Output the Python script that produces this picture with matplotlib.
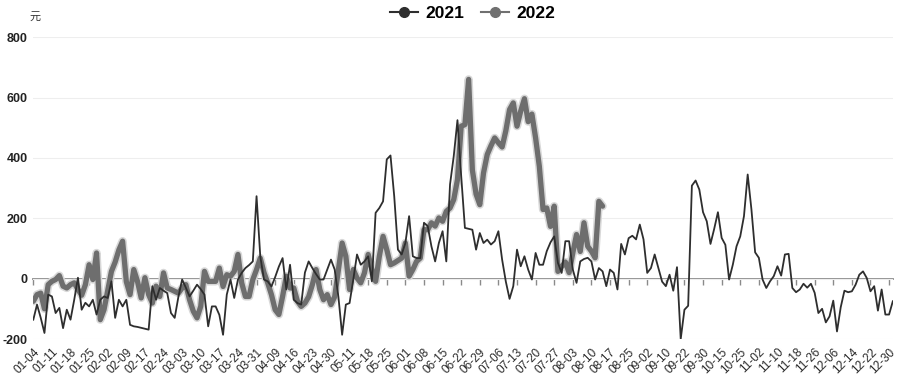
import matplotlib
matplotlib.use('Agg')
import matplotlib.pyplot as plt
import matplotlib.patheffects as pe
from matplotlib.lines import Line2D

plt.rcParams['font.family'] = ['Liberation Sans', 'Noto Sans CJK SC', 'DejaVu Sans']
plt.rcParams['axes.unicode_minus'] = False

# x 轴标签（每 5 个数据点一个）
date_labels = ['01-04', '01-11', '01-18', '01-25', '02-02', '02-09', '02-17', '02-24',
               '03-03', '03-10', '03-17', '03-24', '03-31', '04-09', '04-16', '04-23',
               '04-30', '05-11', '05-18', '05-25', '06-01', '06-08', '06-15', '06-22',
               '06-29', '07-06', '07-13', '07-20', '07-27', '08-03', '08-10', '08-17',
               '08-25', '09-02', '09-10', '09-22', '09-30', '10-15', '10-25', '11-02',
               '11-10', '11-18', '11-26', '12-06', '12-14', '12-22', '12-30']
tick_step = 5

series_names = ['2021', '2022']

y2021 = [-136, -86, -130, -180, -53, -59, -114, -97, -164, -103,
         -136, -70, 3, -103, -80, -92, -70, -119, -70, -59,
         -64, -9, -130, -70, -92, -70, -153, -158, -160, -163,
         -166, -169, -25, -70, -31, -40, -48, -114, -130, -60,
         -3, -30, -59, -40, -20, -35, -53, -158, -92, -92,
         -120, -186, -53, -3, -64, -3, 19, 35, 45, 57,
         273, 74, -3, -9, -26, 5, 40, 68, -36, 46,
         -70, -81, -86, 20, 57, 35, 15, -3, -3, 30,
         63, 30, -60, -186, -86, -81, -3, 80, 46, 57,
         74, -9, 218, 234, 256, 395, 408, 273, 96, 80,
         118, 207, 74, 68, 68, 185, 174, 107, 57, 118,
         157, 57, 312, 406, 525, 340, 168, 165, 162, 96,
         151, 118, 129, 113, 124, 157, 63, -10, -67, -25,
         96, 41, 74, 30, -3, 85, 46, 46, 91, 120,
         140, 52, 19, 124, 124, 30, -14, 57, 65, 69,
         57, -3, 35, 24, -25, 30, 19, -36, 115, 80,
         134, 142, 130, 179, 130, 19, 35, 80, 35, -10,
         -25, 13, -40, 38, -200, -103, -90, 308, 325, 295,
         220, 190, 115, 165, 220, 135, 112, -3, 46, 107,
         140, 207, 345, 230, 87, 69, -3, -31, -9, 8,
         41, 10, 80, 82, -31, -45, -36, -17, -30, -17,
         -47, -114, -100, -145, -125, -73, -175, -95, -40, -45,
         -42, -20, 13, 24, 2, -42, -25, -106, -36, -119,
         -119, -75]

y2022 = [-75, -53, -48, -100, -20, -9, -3, 10, -25, -31,
         -20, -14, -36, -55, -20, 46, -3, 85, -136, -103,
         -40, 24, 55, 95, 124, -10, -53, 30, -9, -64,
         3, -53, -81, -25, -59, 19, -31, -36, -42, -48,
         -31, -20, -70, -108, -130, -92, 24, -9, -9, -9,
         35, -26, 13, 8, 24, 80, -14, -59, -59, -3,
         30, 68, 20, -14, -53, -103, -119, -59, 8, -31,
         -31, -75, -92, -81, -60, -20, 30, -36, -70, -53,
         -86, -60, 30, 118, 74, -36, 30, 2, -14, 19,
         80, 30, -9, 74, 140, 96, 46, 52, 60, 68,
         118, 8, 30, 57, 68, 162, 162, 185, 174, 201,
         190, 223, 234, 262, 328, 505, 510, 660, 360, 280,
         245, 350, 411, 440, 466, 450, 436, 490, 560, 582,
         505, 555, 596, 520, 545, 466, 372, 229, 234, 173,
         240, 24, 40, 55, 20, 85, 146, 90, 185, 107,
         91, 69, 256, 240]

y_ticks = [-200, 0, 200, 400, 600, 800]

fig = plt.figure(figsize=(9, 3.75), dpi=100)
ax = fig.add_axes([0.037, 0.096, 0.955, 0.805])

ax.plot(range(len(y2022)), y2022, color='#6e6e6e', lw=3.8, zorder=2,
        solid_joinstyle='round', solid_capstyle='round',
        path_effects=[pe.Stroke(linewidth=6, foreground='#d8d8d8'), pe.Normal()])
ax.plot(range(len(y2021)), y2021, color='#2e2e2e', lw=1.3, zorder=3)

ax.set_xlim(0, len(y2021) - 1)
ax.set_ylim(y_ticks[0], y_ticks[-1])
ax.set_yticks(y_ticks)
ax.set_xticks(range(0, tick_step * len(date_labels), tick_step))
ax.set_xticklabels(date_labels, rotation=45, ha='right', rotation_mode='anchor',
                   fontsize=8.5, color='#2a2a2a')
ax.tick_params(axis='x', length=0, pad=5)
ax.tick_params(axis='y', length=0, pad=4, labelsize=9, labelcolor='#222222')
for lbl in ax.get_yticklabels():
    lbl.set_fontweight('bold')
for s in ax.spines.values():
    s.set_visible(False)
ax.grid(axis='y', color='#eeeeee', lw=0.8)
ax.set_axisbelow(True)

# 零轴线（带刻度）
zero_frac = (0 - y_ticks[0]) / (y_ticks[-1] - y_ticks[0])
sec = ax.secondary_xaxis(zero_frac)
sec.set_xticks(range(0, tick_step * len(date_labels), tick_step))
sec.xaxis.set_ticks_position('bottom')
sec.tick_params(axis='x', direction='out', length=4, width=1, color='#8a8a8a',
                labelbottom=False, labeltop=False)
for k, s in sec.spines.items():
    s.set_visible(False)
sec.spines['bottom'].set_visible(True)
sec.spines['bottom'].set_color('#8a8a8a')
sec.spines['bottom'].set_linewidth(1.3)

handles = [Line2D([], [], color='#2e2e2e', lw=1.5, marker='o', ms=7),
           Line2D([], [], color='#707070', lw=1.5, marker='o', ms=7)]
fig.legend(handles, series_names, loc='center', bbox_to_anchor=(0.525, 0.963), ncol=2,
           frameon=False, prop={'weight': 'bold', 'size': 12.5}, handlelength=1.6,
           columnspacing=1.0, handletextpad=0.4)

fig.text(35 / 900, 1 - 17 / 375, '元', fontsize=8, ha='center', va='center', color='#333333')

fig.savefig('out.png', dpi=100, facecolor='white')
